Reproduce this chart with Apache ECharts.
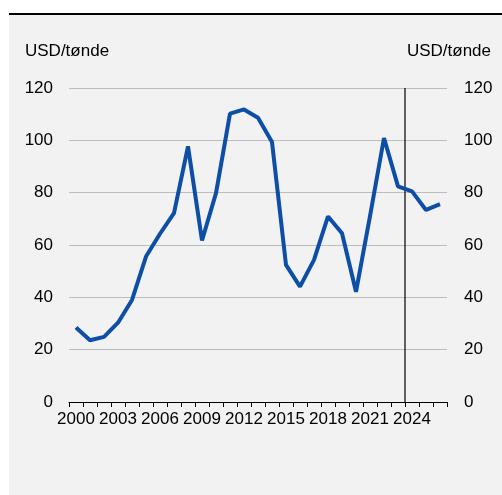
<!DOCTYPE html>
<html>
<head>
<meta charset="utf-8">
<script src="https://cdn.jsdelivr.net/npm/echarts@6/dist/echarts.min.js"></script>
<style>html,body{margin:0;padding:0;background:#fff}#c{width:502px;height:495px}</style>
</head>
<body>
<div id="c"></div>
<script>
const years = ['2000','2001','2002','2003','2004','2005','2006','2007','2008','2009','2010','2011','2012','2013','2014','2015','2016','2017','2018','2019','2020','2021','2022','2023','2024','2025','2026'];
const oilPrice = [28.5, 23.6, 24.9, 30.3, 39.0, 55.6, 64.3, 72.2, 97.7, 61.7, 79.8, 110.2, 111.8, 108.6, 99.4, 52.4, 44.1, 54.3, 70.9, 64.5, 42.1, 71.0, 100.9, 82.4, 80.5, 73.4, 75.6];
const unitLabel = 'USD/tønde';
const forecastStart = 23.5; // boundary between 2023 and 2024 (category index units)
const forecastLine = [[forecastStart, 0], [forecastStart, 120]];

const font = 'Liberation Sans, Arial, sans-serif';
const chart = echarts.init(document.getElementById('c'), null, {renderer: 'canvas'});
const yAxisCommon = {
  type: 'value', min: 0, max: 120, interval: 20,
  axisLine: {show: false}, axisTick: {show: false},
  splitLine: {show: true, lineStyle: {color: '#bdbdbd', width: 1}},
  axisLabel: {fontFamily: font, fontSize: 17, color: '#000'}
};
chart.setOption({
  animation: false,
  backgroundColor: 'transparent',
  graphic: [
    {type: 'rect', z: -10, shape: {x: 9, y: 15, width: 493, height: 480}, style: {fill: '#f2f2f2'}},
    {type: 'rect', z: -10, shape: {x: 9, y: 13, width: 493, height: 2}, style: {fill: '#000'}},
    {type: 'text', left: 25, top: 43, style: {text: unitLabel, font: '17px ' + font, fill: '#000'}},
    {type: 'text', right: 11, top: 43, style: {text: unitLabel, font: '17px ' + font, fill: '#000', textAlign: 'right'}}
  ],
  grid: {left: 69, right: 55, top: 88, bottom: 93, containLabel: false},
  xAxis: [{
    type: 'category', data: years, boundaryGap: true,
    axisLine: {show: true, lineStyle: {color: '#000', width: 1}},
    axisTick: {show: true, inside: false, length: 5, interval: 0, lineStyle: {color: '#000'}},
    axisLabel: {interval: 2, margin: 9, fontFamily: font, fontSize: 17, color: '#000'},
    splitLine: {show: false}
  }, {
    type: 'value', min: -0.5, max: years.length - 0.5, show: false,
    splitLine: {show: false}
  }],
  yAxis: [
    Object.assign({}, yAxisCommon, {position: 'left', axisLabel: Object.assign({}, yAxisCommon.axisLabel, {margin: 16})}),
    Object.assign({}, yAxisCommon, {position: 'right', splitLine: {show: false}, axisLabel: Object.assign({}, yAxisCommon.axisLabel, {margin: 17})})
  ],
  series: [{
    type: 'line', data: forecastLine, xAxisIndex: 1, yAxisIndex: 0,
    symbol: 'none', silent: true, z: 1,
    lineStyle: {color: '#000', width: 1.2}
  }, {
    type: 'line', data: oilPrice, xAxisIndex: 0, yAxisIndex: 0,
    symbol: 'none', smooth: false, z: 2,
    lineStyle: {color: '#0d4ea6', width: 4}
  }]
});
</script>
</body>
</html>
